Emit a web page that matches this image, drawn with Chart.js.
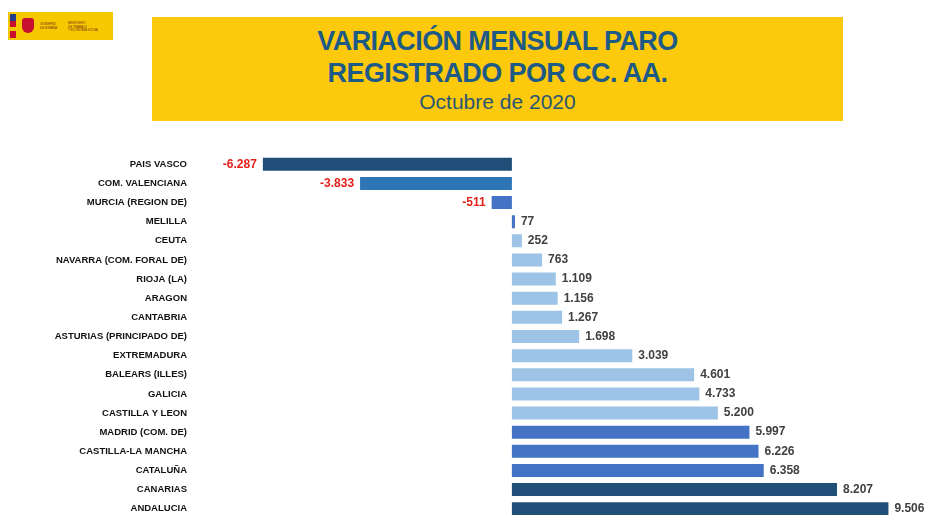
<!DOCTYPE html>
<html lang="es">
<head>
<meta charset="utf-8">
<title>Variación mensual paro registrado por CC. AA.</title>
<script src="https://cdn.jsdelivr.net/npm/chart.js@4.4.1/dist/chart.umd.min.js"></script>
<style>
  html, body { margin:0; padding:0; background:#fff; }
  body { width:929px; height:515px; overflow:hidden; position:relative; font-family:"Liberation Sans", Arial, sans-serif; }
  .logo { position:absolute; left:8px; top:12px; width:105px; height:28px; background:#f6c800; }
  .logo .strip { position:absolute; left:2px; top:2px; width:6px; height:24px; background:linear-gradient(#243d8a 0 30%, #c8102e 30% 55%, #f6c800 55% 70%, #c8102e 70%); }
  .logo .arms { position:absolute; left:14px; top:6px; width:12px; height:15px; border-radius:3px 3px 6px 6px; background:#c8102e; }
  .logo .t1, .logo .t2 { position:absolute; font-size:3px; line-height:3.5px; color:#7a2a1a; }
  .logo .t1 { left:32px; top:11px; }
  .logo .t2 { left:60px; top:10px; }
  .banner { position:absolute; left:152px; top:17px; width:691px; height:104px; background:#fdc90c; text-align:center; color:#1d5a86; }
  .banner h1 { margin:0; padding-top:8px; font-size:27px; line-height:32px; font-weight:bold; letter-spacing:-0.6px; }
  .banner p { margin:0; font-size:21px; line-height:25px; color:#2a5673; }
  #wrap { position:absolute; left:0; top:141px; width:929px; height:391px; }
</style>
</head>
<body>
<div class="logo"><div class="strip"></div><div class="arms"></div>
  <div class="t1">GOBIERNO<br>DE ESPAÑA</div>
  <div class="t2">MINISTERIO<br>DE TRABAJO<br>Y ECONOMÍA SOCIAL</div></div>
<div class="banner">
  <h1>VARIACIÓN MENSUAL PARO<br>REGISTRADO POR CC. AA.</h1>
  <p>Octubre de 2020</p>
</div>
<div id="wrap"><canvas id="grafico"></canvas></div>
<script>
"use strict";

const comunidades = ["PAIS VASCO", "COM. VALENCIANA", "MURCIA (REGION DE)", "MELILLA", "CEUTA",
  "NAVARRA (COM. FORAL DE)", "RIOJA (LA)", "ARAGON", "CANTABRIA", "ASTURIAS (PRINCIPADO DE)",
  "EXTREMADURA", "BALEARS (ILLES)", "GALICIA", "CASTILLA Y LEON", "MADRID (COM. DE)",
  "CASTILLA-LA MANCHA", "CATALUÑA", "CANARIAS", "ANDALUCIA"];
const variacion = [-6287, -3833, -511, 77, 252, 763, 1109, 1156, 1267, 1698,
  3039, 4601, 4733, 5200, 5997, 6226, 6358, 8207, 9506];
const coresBarras = ["#1f4e79", "#2e75b6", "#4472c4", "#4472c4", "#9dc3e6",
  "#9dc3e6", "#9dc3e6", "#9dc3e6", "#9dc3e6", "#9dc3e6",
  "#9dc3e6", "#9dc3e6", "#9dc3e6", "#9dc3e6", "#4472c4",
  "#4472c4", "#4472c4", "#1f4e79", "#1f4e79"];
const ejeMin = -8000, ejeMax = 10000;

const fmt = v => (v < 0 ? "-" : "") + String(Math.abs(v)).replace(/\B(?=(\d{3})+(?!\d))/g, ".");

const etiquetasValor = {
  id: "etiquetasValor",
  afterDatasetsDraw(chart) {
    const ctx = chart.ctx, meta = chart.getDatasetMeta(0);
    ctx.save();
    ctx.font = "bold 12px 'Liberation Sans', Arial, sans-serif";
    ctx.textBaseline = "middle";
    meta.data.forEach((bar, i) => {
      const v = variacion[i];
      if (v < 0) { ctx.fillStyle = "#e3201b"; ctx.textAlign = "right"; ctx.fillText(fmt(v), bar.x - 6, bar.y); }
      else { ctx.fillStyle = "#404040"; ctx.textAlign = "left"; ctx.fillText(fmt(v), bar.x + 6, bar.y); }
    });
    ctx.restore();
  }
};

new Chart(document.getElementById("grafico"), {
  type: "bar",
  data: { labels: comunidades, datasets: [{ data: variacion, backgroundColor: coresBarras, barPercentage: 0.68, categoryPercentage: 1 }] },
  options: {
    indexAxis: "y", responsive: true, maintainAspectRatio: false, animation: false,
    layout: { padding: { left: 0, right: 21, top: 0, bottom: 0 } },
    plugins: { legend: { display: false }, tooltip: { enabled: false } },
    scales: {
      x: { display: false, min: ejeMin, max: ejeMax },
      y: {
        grid: { display: false, drawTicks: false }, border: { display: false },
        ticks: { color: "#111", padding: 8, font: { family: "'Liberation Sans', Arial, sans-serif", size: 9.5, weight: "bold" } },
        afterFit: s => { s.width = 195; }
      }
    }
  },
  plugins: [etiquetasValor]
});
</script>
</body>
</html>
